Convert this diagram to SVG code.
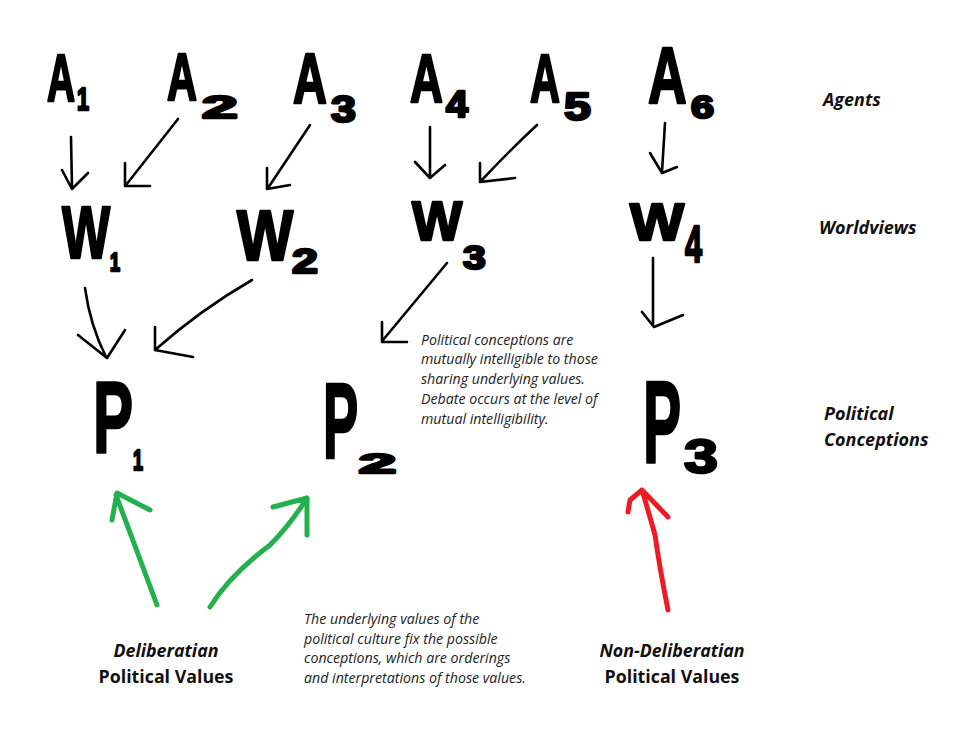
<svg xmlns="http://www.w3.org/2000/svg" width="960" height="740" viewBox="0 0 960 740">
<style>
.big{font-family:"Liberation Sans",Arial,sans-serif;font-weight:bold;fill:#000;stroke:#000;stroke-width:2.5;stroke-linejoin:round}
.lbl{font-family:"Open Sans","Noto Sans",sans-serif;font-weight:bold;font-style:italic;font-size:18px;fill:#111}
.note{font-family:"Open Sans","Noto Sans",sans-serif;font-style:italic;font-size:14.2px;fill:#222}
.val{font-family:"Open Sans","Noto Sans",sans-serif;font-weight:bold;font-size:17.8px;fill:#111;text-anchor:middle}
.blk{fill:none;stroke:#000;stroke-width:2.6;stroke-linecap:round;stroke-linejoin:round}
.grn{fill:none;stroke:#22b14c;stroke-width:5;stroke-linecap:round;stroke-linejoin:round}
.red{fill:none;stroke:#ed1c24;stroke-width:5;stroke-linecap:round;stroke-linejoin:round}
</style>
<rect width="960" height="740" fill="#fff"/>
<g id="A1"><text class="big" font-size="67" transform="translate(47,101) scale(0.58,1)">A</text><text class="big" font-size="31" transform="translate(77,110) scale(0.7,1)">1</text></g>
<g id="A2"><text class="big" font-size="67" transform="translate(167,100) scale(0.62,1)">A</text><text class="big" font-size="32" transform="translate(202,118) scale(2,1)">2</text></g>
<g id="A3"><text class="big" font-size="70" transform="translate(293,103) scale(0.67,1)">A</text><text class="big" font-size="37" transform="translate(331,122) scale(1.21,1)">3</text></g>
<g id="A4"><text class="big" font-size="68" transform="translate(410,102) scale(0.67,1)">A</text><text class="big" font-size="37" transform="translate(446,117) scale(1.07,1)">4</text></g>
<g id="A5"><text class="big" font-size="68" transform="translate(530,102) scale(0.61,1)">A</text><text class="big" font-size="39" transform="translate(564,120) scale(1.24,1)">5</text></g>
<g id="A6"><text class="big" font-size="80" transform="translate(648,103) scale(0.67,1)">A</text><text class="big" font-size="32" transform="translate(691,118) scale(1.29,1)">6</text></g>
<g id="W1"><text class="big" font-size="74" transform="translate(62,258) scale(0.69,1)">W</text><text class="big" font-size="26" transform="translate(110,271) scale(0.69,1)">1</text></g>
<g id="W2"><text class="big" font-size="70" transform="translate(237,260) scale(0.85,1)">W</text><text class="big" font-size="35" transform="translate(292,273) scale(1.33,1)">2</text></g>
<g id="W3"><text class="big" font-size="56" transform="translate(412,240) scale(0.95,1)">W</text><text class="big" font-size="34" transform="translate(463,269) scale(1.2,1)">3</text></g>
<g id="W4"><text class="big" font-size="52" transform="translate(630,240) scale(1.1,1)">W</text><text class="big" font-size="52" transform="translate(685,262) scale(0.59,1)">4</text></g>
<g id="P1"><text class="big" font-size="102" transform="translate(93,453) scale(0.59,1)">P</text><text class="big" font-size="30" transform="translate(133,470) scale(0.6,1)">1</text></g>
<g id="P2"><text class="big" font-size="108" transform="translate(323,458) scale(0.49,1)">P</text><text class="big" font-size="28" transform="translate(359,473) scale(2.37,1)">2</text></g>
<g id="P3"><text class="big" font-size="117" transform="translate(643,462) scale(0.49,1)">P</text><text class="big" font-size="48" transform="translate(684,473) scale(1.27,1)">3</text></g>
<g id="levels">
<text class="lbl" x="823" y="106">Agents</text>
<text class="lbl" x="819" y="234">Worldviews</text>
<text class="lbl" x="824" y="420">Political</text>
<text class="lbl" x="824" y="446">Conceptions</text>
</g>
<g id="note1">
<text class="note" x="421" y="345">Political conceptions are</text>
<text class="note" x="421" y="364">mutually intelligible to those</text>
<text class="note" x="421" y="384">sharing underlying values.</text>
<text class="note" x="421" y="404">Debate occurs at the level of</text>
<text class="note" x="421" y="424">mutual intelligibility.</text>
</g>
<g id="note2">
<text class="note" x="304" y="624">The underlying values of the</text>
<text class="note" x="304" y="644">political culture fix the possible</text>
<text class="note" x="304" y="663">conceptions, which are orderings</text>
<text class="note" x="304" y="683">and interpretations of those values.</text>
</g>
<g id="delib"><text class="val" x="166" y="657" font-style="italic">Deliberatian</text><text class="val" x="166" y="683">Political Values</text></g>
<g id="nondelib"><text class="val" x="672" y="657" font-style="italic">Non-Deliberatian</text><text class="val" x="672" y="683">Political Values</text></g>
<g id="connectors">
<path class="blk" d="M71 137 L72 188 M62 170 L72 189 L88 173"/>
<path class="blk" d="M178 119 L126 185 M125 163 L125 186 L150 186"/>
<path class="blk" d="M310 125 L268 188 M267 168 L267 189 L290 185"/>
<path class="blk" d="M430 127 L430 178 M415 162 L430 178 L445 165"/>
<path class="blk" d="M537 125 Q510 150 480 182 M480 163 L480 182 L515 178"/>
<path class="blk" d="M665 123 L662 172 M650 153 L662 173 L677 167"/>
<path class="blk" d="M85 288 Q90 325 106 357 M78 335 L107 358 L125 330"/>
<path class="blk" d="M252 280 Q200 310 155 350 M155 327 L155 350 L193 357"/>
<path class="blk" d="M447 263 L383 340 M382 322 L382 342 L407 342"/>
<path class="blk" d="M653 258 L653 325 M642 312 L654 327 L683 315"/>
<path class="grn" d="M157 605 L116 495 M112 520 L117 493 L150 510"/>
<path class="grn" d="M210 607 Q230 575 270 545 Q290 525 307 498 M273 507 L307 498 L307 535"/>
<path class="red" d="M668 610 Q660 570 655 535 Q648 510 642 490 M628 512 L630 500 L642 490 L668 517"/>
</g>
</svg>
